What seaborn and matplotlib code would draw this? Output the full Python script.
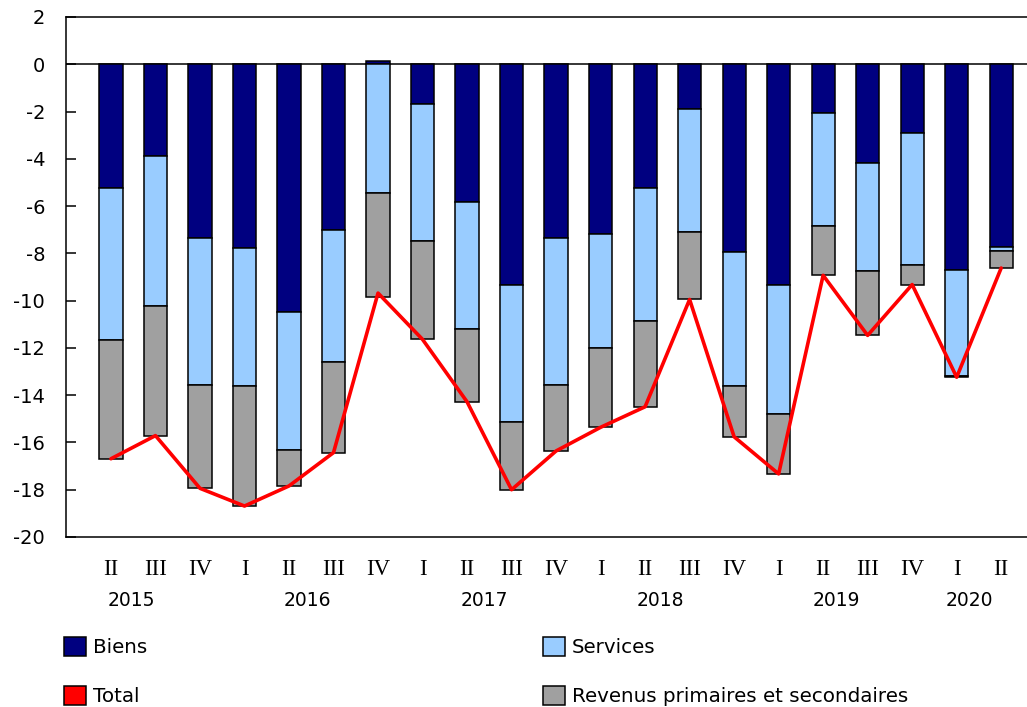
import numpy as np
import matplotlib
matplotlib.use("Agg")
import matplotlib.pyplot as plt
import seaborn as sns
from matplotlib.patches import Patch
from matplotlib.transforms import blended_transform_factory

# ---- data ----
quarters = ["II", "III", "IV", "I", "II", "III", "IV", "I", "II", "III", "IV",
            "I", "II", "III", "IV", "I", "II", "III", "IV", "I", "II"]
years = ["2015", "2016", "2017", "2018", "2019", "2020"]
biens = [-5.24, -3.87, -7.35, -7.76, -10.47, -7.00, 0.15, -1.70, -5.81, -9.34, -7.37,
         -7.18, -5.22, -1.88, -7.95, -9.32, -2.07, -4.19, -2.92, -8.69, -7.75]
services = [-6.43, -6.34, -6.23, -5.87, -5.84, -5.59, -5.43, -5.77, -5.39, -5.80, -6.19,
            -4.84, -5.65, -5.22, -5.68, -5.49, -4.77, -4.56, -5.58, -4.48, -0.13]
revenus = [-5.02, -5.50, -4.36, -5.06, -1.53, -3.84, -4.40, -4.17, -3.08, -2.86, -2.80,
           -3.34, -3.62, -2.85, -2.13, -2.52, -2.09, -2.72, -0.82, -0.07, -0.74]
total = [-16.69, -15.71, -17.94, -18.69, -17.84, -16.43, -9.68, -11.64, -14.28, -18.00, -16.36,
         -15.36, -14.49, -9.95, -15.76, -17.33, -8.93, -11.47, -9.32, -13.24, -8.62]

labels = ["Biens", "Services", "Revenus primaires et secondaires", "Total"]
colors = ["#000080", "#99CCFF", "#A0A0A0", "#FF0000"]

# ---- style ----
sns.set_theme(style="white")
plt.rcParams["font.family"] = ["DejaVu Sans"]
plt.rcParams["axes.unicode_minus"] = False
plt.rcParams["text.color"] = "black"
plt.rcParams["xtick.color"] = "black"
plt.rcParams["ytick.color"] = "black"

fig = plt.figure(figsize=(10.27, 7.07), dpi=100)
ax = fig.add_axes([66 / 1027, 170 / 707, 1 - 66 / 1027, 520 / 707])

n = len(quarters)
x = np.arange(n)
pos_b = np.zeros(n)
neg_b = np.zeros(n)
for vals, col in zip([biens, services, revenus], colors[:3]):
    v = np.asarray(vals, dtype=float)
    bottom = np.where(v >= 0, pos_b, neg_b)
    ax.bar(x, v, bottom=bottom, width=0.52, color=col, edgecolor="black",
           linewidth=1.1, zorder=2)
    pos_b += np.clip(v, 0, None)
    neg_b += np.clip(v, None, 0)

ax.axhline(0, color="black", linewidth=1.1, zorder=1.5)
sns.lineplot(x=x, y=total, color=colors[3], linewidth=2.6, ax=ax, zorder=3)

ax.set_xlim(-1.01, 20.58)
ax.set_ylim(-20, 2)
ax.set_yticks(np.arange(-20, 3, 2))
ax.set_yticklabels([str(v) for v in range(-20, 3, 2)])
ax.tick_params(axis="y", direction="in", length=7, width=1.1, colors="black",
               labelsize=14, pad=15, left=True)
ax.set_xticks(x)
ax.set_xticklabels(quarters, fontfamily="Liberation Serif", fontsize=16.5)
ax.tick_params(axis="x", length=0, pad=16, colors="black")
ax.set_xlabel("")
ax.set_ylabel("")

for side in ["left", "top", "bottom"]:
    ax.spines[side].set_color("black")
    ax.spines[side].set_linewidth(1.1)
ax.spines["right"].set_visible(False)

# year labels
year_pos = [0.45, 4.42, 8.38, 12.35, 16.3, 19.28]
trans = blended_transform_factory(ax.transData, fig.transFigure)
for yp, yl in zip(year_pos, years):
    ax.text(yp, 1 - 600 / 707, yl, transform=trans, ha="center", va="center",
            fontsize=13.5, color="black")

# legend
handles = [Patch(facecolor=colors[0], edgecolor="black", linewidth=1.1, label=labels[0]),
           Patch(facecolor=colors[3], edgecolor="black", linewidth=1.1, label=labels[3]),
           Patch(facecolor=colors[1], edgecolor="black", linewidth=1.1, label=labels[1]),
           Patch(facecolor=colors[2], edgecolor="black", linewidth=1.1, label=labels[2])]
fig.legend(handles=handles, ncol=2, loc="upper left",
           bbox_to_anchor=(64 / 1027, 1 - 637 / 707), frameon=False,
           fontsize=14.3, handlelength=1.1, handleheight=1.1, handletextpad=0.35,
           columnspacing=19.95, labelspacing=1.45, borderpad=0, borderaxespad=0)

fig.savefig("out.png", dpi=100)
